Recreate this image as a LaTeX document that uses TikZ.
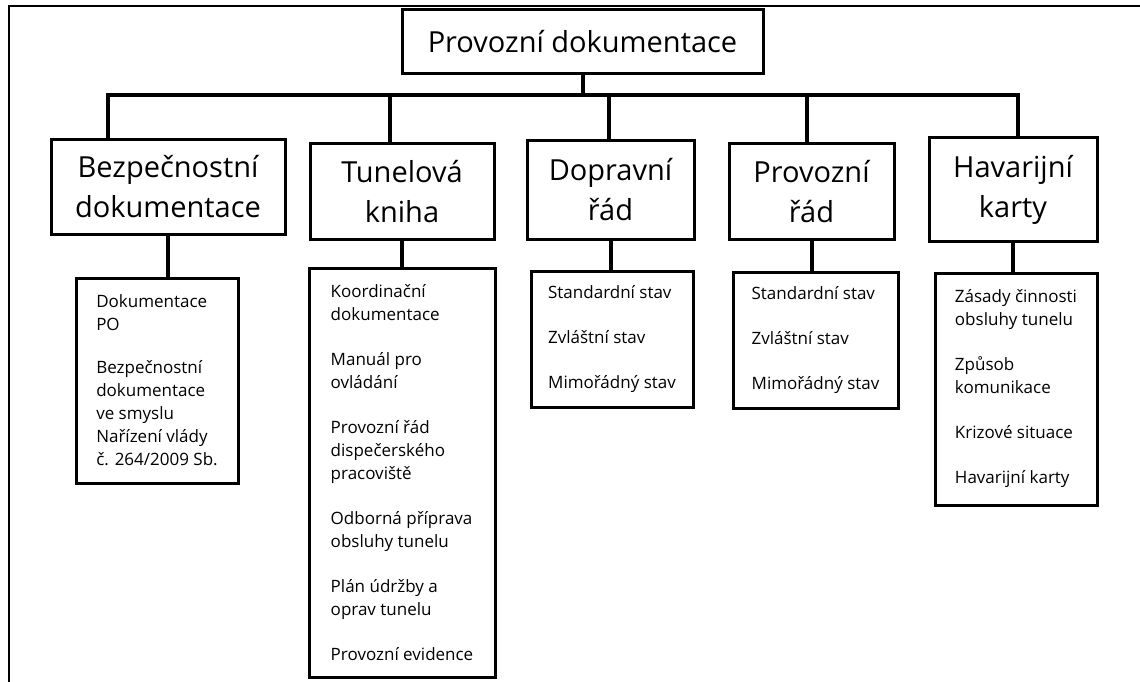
\documentclass[tikz,border=0pt]{standalone}
\usepackage{fontspec}
\setmainfont{Open Sans}

\begin{document}
\begin{tikzpicture}[x=1pt,y=-1pt,
            every node/.append style={draw,black,fill=white,line width=3pt},
            conn/.style={line width=4pt},
            headbox/.style={font=\fontsize{29}{40}\selectfont,align=center},
            listbox/.style={font=\fontsize{17}{23}\selectfont,align=left}
        ]
            \useasboundingbox (0,0) rectangle (1140,682);
            \draw[line width=1.5pt] (9,682) -- (9,6) -- (1140,6);

            % top
            \node[headbox,minimum width=361pt,minimum height=64pt] (pd) at (582.5,42) {Provozní dokumentace};

            % second row
            \node[headbox,minimum width=234pt,minimum height=95pt] (bd) at (168,187) {Bezpečnostní\\dokumentace};
            \node[headbox,minimum width=184pt,minimum height=96pt] (tk) at (402,191.5) {Tunelová\\kniha};
            \node[headbox,minimum width=167pt,minimum height=98pt] (dr) at (610.5,190) {Dopravní\\řád};
            \node[headbox,minimum width=165pt,minimum height=96pt] (pr) at (811.5,191.5) {Provozní\\řád};
            \node[headbox,minimum width=168pt,minimum height=103pt] (hk) at (1013,189.5) {Havarijní\\karty};

            % lists
            \node[listbox,minimum width=162pt,minimum height=205pt] (po) at (157,380.5)
                {Dokumentace\\PO\\[20pt]Bezpečnostní\\dokumentace\\ve smyslu\\Nařízení vlády\\č. 264/2009 Sb.};
            \node[listbox,minimum width=186pt,minimum height=409pt] (tl) at (402,472.5)
                {Koordinační\\dokumentace\\[22pt]Manuál pro\\ovládání\\[22pt]Provozní řád\\dispečerského\\pracoviště\\[22pt]Odborná příprava\\obsluhy tunelu\\[22pt]Plán údržby a\\oprav tunelu\\[22pt]Provozní evidence};
            \node[listbox,minimum width=162pt,minimum height=136pt] (ds) at (612,339)
                {Standardní stav\\[22pt]Zvláštní stav\\[22pt]Mimořádný stav};
            \node[listbox,minimum width=165pt,minimum height=136pt] (ps) at (815.5,340)
                {Standardní stav\\[22pt]Zvláštní stav\\[22pt]Mimořádný stav};
            \node[listbox,minimum width=162pt,minimum height=232pt] (hl) at (1016,389)
                {Zásady činnosti\\obsluhy tunelu\\[22pt]Způsob\\komunikace\\[22pt]Krizové situace\\[22pt]Havarijní karty};

            % connectors
            \coordinate (bus) at (0,95);
            \draw[conn] (pd.south) -- (pd.south |- bus);
            \draw[conn] ([xshift=-60pt]bd.north) |- ([xshift=5pt]hk.north |- bus) -- ([xshift=5pt]hk.north);
            \foreach \n/\s in {tk/-12,dr/-2,pr/-5}
                \draw[conn] ([xshift=\s pt]\n.north) -- ([xshift=\s pt]\n.north |- bus);
            \foreach \a/\b in {bd/po,tk/tl,dr/ds,pr/ps,hk/hl}
                \draw[conn] (\a.south) -- (\a.south |- \b.north);
        \end{tikzpicture}
\end{document}
